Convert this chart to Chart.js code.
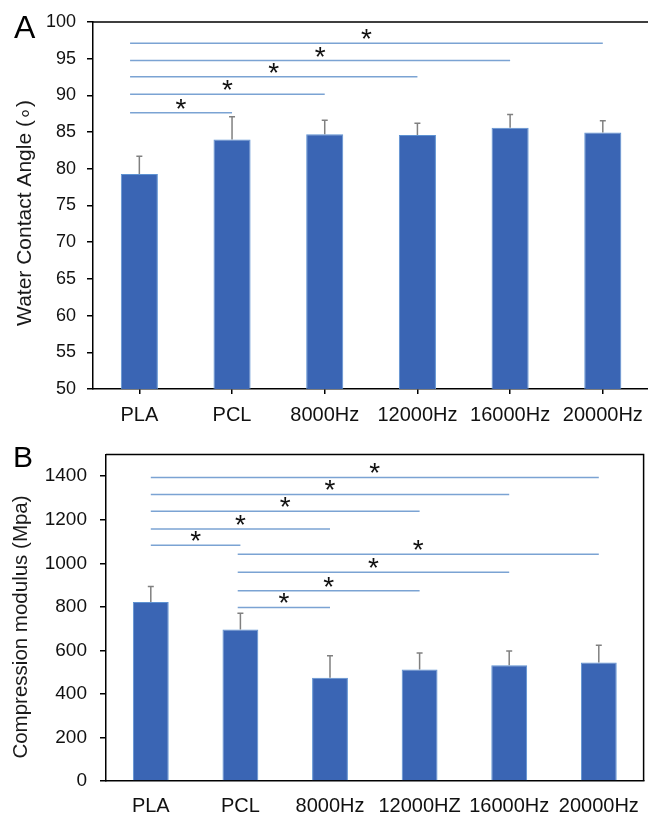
<!DOCTYPE html>
<html><head><meta charset="utf-8">
<script src="https://cdn.jsdelivr.net/npm/chart.js@4/dist/chart.umd.min.js"></script>
<style>
html,body{margin:0;padding:0;background:#fff;overflow:hidden;width:648px;height:815px}
#wa{position:absolute;left:0;top:0;width:652px;height:430px}
#wb{position:absolute;left:0;top:430px;width:652px;height:385px}
</style></head><body>
<div id="wa"><canvas id="ca"></canvas></div>
<div id="wb"><canvas id="cb"></canvas></div>
<script>
// ---- Panel A data ----
const categoriesA = ['PLA', 'PCL', '8000Hz', '12000Hz', '16000Hz', '20000Hz'];
const contactAngle = [79.3, 84.0, 84.7, 84.6, 85.6, 84.95];
const contactAngleErr = [2.4, 3.1, 1.9, 1.6, 1.8, 1.6];
const sigFromA = [0, 0, 0, 0, 0];
const sigToA = [5, 4, 3, 2, 1];
const sigLevelA = [97.1, 94.75, 92.55, 90.15, 87.65];
const yTicksA = {min: 50, max: 100, step: 5};

// ---- Panel B data ----
const categoriesB = ['PLA', 'PCL', '8000Hz', '12000HZ', '16000Hz', '20000Hz'];
const modulus = [822, 696, 474, 512, 532, 544];
const modulusErr = [71, 74, 101, 76, 65, 79];
const sigFromB = [0, 0, 0, 0, 0, 1, 1, 1, 1];
const sigToB = [5, 4, 3, 2, 1, 5, 4, 3, 2];
const sigLevelB = [1394, 1316, 1239, 1157, 1083, 1041, 959, 874, 797];
const yTicksB = {min: 0, max: 1500, step: 200};

const FONT = 'Liberation Sans, Arial, sans-serif';
const BAR = '#3A65B4';

const annot = {
  id: 'annot',
  afterDatasetsDraw(chart, args, o) {
    const ctx = chart.ctx, ca = chart.chartArea;
    const xs = chart.scales.x, ys = chart.scales.y;
    const vals = chart.data.datasets[0].data;
    ctx.save();
    // frame
    ctx.strokeStyle = '#000'; ctx.lineWidth = 1.5;
    ctx.beginPath();
    ctx.moveTo(ca.left, ca.top); ctx.lineTo(ca.right, ca.top);
    ctx.lineTo(ca.right, ca.bottom);
    ctx.stroke();
    // error bars
    ctx.strokeStyle = '#808080'; ctx.lineWidth = 1.5;
    vals.forEach((v, i) => {
      const x = xs.getPixelForValue(i);
      const y0 = ys.getPixelForValue(v), y1 = ys.getPixelForValue(v + o.err[i]);
      ctx.beginPath();
      ctx.moveTo(x, y0); ctx.lineTo(x, y1);
      ctx.moveTo(x - 3, y1); ctx.lineTo(x + 3, y1);
      ctx.stroke();
    });
    // significance lines and stars
    ctx.strokeStyle = '#7BA3D3'; ctx.lineWidth = 1.5;
    ctx.fillStyle = '#111';
    ctx.font = o.starSize + 'px ' + FONT;
    ctx.textAlign = 'center'; ctx.textBaseline = 'alphabetic';
    o.from.forEach((f, k) => {
      const x1 = xs.getPixelForValue(f + (f === 0 ? o.startOff0 : o.startOff1));
      const x2 = xs.getPixelForValue(o.to[k]);
      const y = ys.getPixelForValue(o.level[k]);
      ctx.beginPath(); ctx.moveTo(x1, y); ctx.lineTo(x2, y); ctx.stroke();
      ctx.fillText('*', (x1 + x2) / 2, y + o.starDy);
    });
    // panel letter
    ctx.textAlign = 'left'; ctx.textBaseline = 'alphabetic';
    ctx.fillStyle = '#000';
    ctx.font = o.letterSize + 'px ' + FONT;
    ctx.fillText(o.letter, o.letterX, o.letterY);
    // y title
    ctx.font = o.titleSize + 'px ' + FONT;
    ctx.fillStyle = '#1a1a1a';
    ctx.translate(o.titleX, o.titleY);
    ctx.rotate(-Math.PI / 2);
    ctx.textAlign = 'center'; ctx.textBaseline = 'middle';
    ctx.fillText(o.title, 0, 0);
    ctx.restore();
  }
};

function makeChart(id, cats, vals, cfg) {
  return new Chart(document.getElementById(id), {
    type: 'bar',
    data: {labels: cats, datasets: [{data: vals, backgroundColor: BAR, borderColor: '#5E92D2', borderWidth: 1, barPercentage: 0.4, categoryPercentage: 1.0}]},
    options: {
      responsive: true, maintainAspectRatio: false, animation: false, devicePixelRatio: 1,
      layout: {padding: {top: cfg.padTop, right: 2, left: 0, bottom: 0}},
      plugins: {legend: {display: false}, tooltip: {enabled: false}, annot: cfg.annot},
      scales: {
        x: {
          ticks: {color: '#111', font: {family: FONT, size: 20}, padding: cfg.xPad, maxRotation: 0, autoSkip: false},
          grid: {display: cfg.xTicks, drawOnChartArea: false, drawTicks: cfg.xTicks, tickLength: 5, color: '#000', lineWidth: 1.5, offset: false},
          border: {display: true, color: '#000', width: 1.5},
          afterFit(s) { s.height = cfg.xHeight; }
        },
        y: {
          min: cfg.yt.min, max: cfg.yt.max,
          ticks: {stepSize: cfg.yt.step, includeBounds: false, color: '#111', font: {family: FONT, size: cfg.ySize}, padding: cfg.yPad,
            callback: v => String(v)},
          grid: {display: true, drawOnChartArea: false, drawTicks: true, tickLength: 6, color: '#000', lineWidth: 1.5},
          border: {display: true, color: '#000', width: 1.5},
          afterFit(s) { s.width = cfg.yWidth; }
        }
      }
    },
    plugins: [annot]
  });
}

makeChart('ca', categoriesA, contactAngle, {
  padTop: 22, xHeight: 41, yWidth: 93, yt: yTicksA, ySize: 18, yPad: 11, xPad: 9, xTicks: true,
  annot: {err: contactAngleErr, from: sigFromA, to: sigToA, level: sigLevelA, startOff0: -0.1, startOff1: -0.03,
    starSize: 28, starDy: 5, letter: 'A', letterSize: 32, letterX: 14, letterY: 38,
    title: 'Water Contact Angle (\u2218)', titleSize: 21, titleX: 25, titleY: 213}
});

makeChart('cb', categoriesB, modulus, {
  padTop: 14, xHeight: 34, yWidth: 106, yt: yTicksB, ySize: 19, yPad: 13, xPad: 13, xTicks: false,
  annot: {err: modulusErr, from: sigFromB, to: sigToB, level: sigLevelB, startOff0: 0, startOff1: -0.03,
    starSize: 28, starDy: 5, letter: 'B', letterSize: 30, letterX: 13, letterY: 37,
    title: 'Compression modulus (Mpa)', titleSize: 20.5, titleX: 21, titleY: 197}
});
</script>
</body></html>
